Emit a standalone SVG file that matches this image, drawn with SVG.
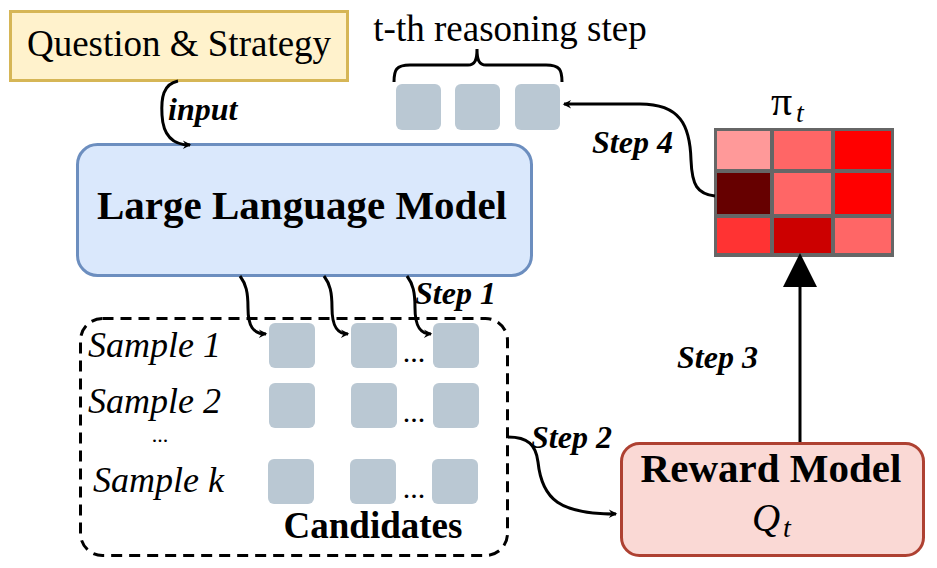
<svg xmlns="http://www.w3.org/2000/svg" width="937" height="568" viewBox="0 0 937 568">
<defs>
<style>
.t{font-family:'Liberation Serif','DejaVu Serif',serif;fill:#000}
.b{font-weight:bold}
.i{font-style:italic}
.sq{fill:#bac8d3;stroke:none}
.ln{fill:none;stroke:#000;stroke-width:3}
</style>
<marker id="ah" viewBox="0 0 12 12" refX="10" refY="6" markerWidth="6" markerHeight="6" markerUnits="userSpaceOnUse" orient="auto" overflow="visible">
<path d="M0,0 L12,6 L0,12 L4,6 Z" fill="#000" transform="scale(1.4) translate(-3,-2)"/>
</marker>
</defs>
<rect width="937" height="568" fill="#fff"/>

<g id="question">
<rect x="10.5" y="11.5" width="337" height="69" fill="#fff2cc" stroke="#d6b656" stroke-width="3"/>
<text class="t" x="179" y="56" font-size="37" text-anchor="middle">Question &amp; Strategy</text>
</g>

<g id="llm">
<rect x="77.5" y="144.5" width="454" height="131" rx="20" fill="#dae8fc" stroke="#6c8ebf" stroke-width="3"/>
<text class="t b" x="302" y="219" font-size="41" text-anchor="middle">Large Language Model</text>
</g>

<g id="reasoning-step">
<text class="t" x="510" y="41" font-size="37" text-anchor="middle">t-th reasoning step</text>
<path class="ln" d="M394,82 C394,70 396,65 410,65 L468,65 C475,65 477,60 477,49 C477,60 479,65 486,65 L546,65 C560,65 562,70 562,82"/>
<rect class="sq" x="396" y="84" width="45" height="46" rx="6"/>
<rect class="sq" x="455" y="84" width="45" height="46" rx="6"/>
<rect class="sq" x="515" y="84" width="45" height="46" rx="6"/>
</g>

<g id="policy">
<text class="t" x="771" y="115" font-size="42">π</text>
<text class="t i" x="796" y="122" font-size="28">t</text>
<rect x="714" y="128" width="180" height="129" fill="#666"/>
<rect x="717" y="131" width="53" height="38" fill="#ff9999"/>
<rect x="774" y="131" width="57" height="38" fill="#ff6666"/>
<rect x="835" y="131" width="56" height="38" fill="#ff0000"/>
<rect x="717" y="173" width="53" height="41" fill="#660000"/>
<rect x="774" y="173" width="57" height="41" fill="#ff6666"/>
<rect x="835" y="173" width="56" height="41" fill="#ff0000"/>
<rect x="717" y="218" width="53" height="35" fill="#ff3333"/>
<rect x="774" y="218" width="57" height="35" fill="#cc0000"/>
<rect x="835" y="218" width="56" height="35" fill="#ff6666"/>
</g>

<g id="reward-model">
<rect x="621.5" y="443.5" width="302" height="112" rx="18" fill="#fad9d5" stroke="#ae4132" stroke-width="3"/>
<text class="t b" x="771" y="482" font-size="41" text-anchor="middle">Reward Model</text>
<text class="t i" x="752" y="531" font-size="39">Q</text>
<text class="t i" x="783" y="537" font-size="28">t</text>
</g>

<g id="candidates">
<rect x="80.5" y="318.5" width="427" height="237" rx="22" fill="none" stroke="#000" stroke-width="3" stroke-dasharray="11,7"/>
<text class="t i" x="88" y="357" font-size="36">Sample 1</text>
<text class="t i" x="88" y="413" font-size="36">Sample 2</text>
<text class="t" x="160" y="442" font-size="22" text-anchor="middle">...</text>
<text class="t i" x="93" y="492" font-size="36">Sample k</text>
<rect class="sq" x="269" y="323" width="46" height="45" rx="6"/>
<rect class="sq" x="351" y="323" width="46" height="45" rx="6"/>
<rect class="sq" x="433" y="323" width="46" height="45" rx="6"/>
<rect class="sq" x="269" y="383" width="46" height="45" rx="6"/>
<rect class="sq" x="351" y="383" width="46" height="45" rx="6"/>
<rect class="sq" x="433" y="383" width="46" height="45" rx="6"/>
<rect class="sq" x="268" y="459" width="46" height="45" rx="6"/>
<rect class="sq" x="350" y="459" width="46" height="45" rx="6"/>
<rect class="sq" x="432" y="459" width="46" height="45" rx="6"/>
<text class="t" x="414" y="362" font-size="30" text-anchor="middle">...</text>
<text class="t" x="414" y="422" font-size="30" text-anchor="middle">...</text>
<text class="t" x="414" y="498" font-size="30" text-anchor="middle">...</text>
<text class="t b" x="373" y="538" font-size="37" text-anchor="middle">Candidates</text>
</g>

<g id="connectors">
<path class="ln" d="M178,81 C163,84 161,98 162,115 C163,135 172,145 190,145" marker-end="url(#ah)"/>
<text class="t b i" x="168" y="120" font-size="32">input</text>

<path class="ln" d="M240,276 C246,284 248,292 248,308 C248,326 253,334 266,334" marker-end="url(#ah)"/>
<path class="ln" d="M324,276 C330,284 332,292 332,308 C332,326 337,334 348,334" marker-end="url(#ah)"/>
<path class="ln" d="M407,276 C413,284 415,292 415,308 C415,326 420,334 431,334" marker-end="url(#ah)"/>
<text class="t b i" x="415" y="304" font-size="32">Step 1</text>

<path class="ln" d="M508,437 C528,437 536,445 538,462 C542,500 560,514 616,514" marker-end="url(#ah)"/>
<text class="t b i" x="531" y="448" font-size="32">Step 2</text>

<path class="ln" d="M800,442 L800,286"/>
<path d="M783,287 L800,253 L817,287 Z" fill="#000"/>
<text class="t b i" x="677" y="368" font-size="32">Step 3</text>

<path class="ln" d="M715,196 C697,194 692,185 691,160 C690,125 680,104 640,104 L564,104" marker-end="url(#ah)"/>
<text class="t b i" x="592" y="153" font-size="32">Step 4</text>
</g>
</svg>
